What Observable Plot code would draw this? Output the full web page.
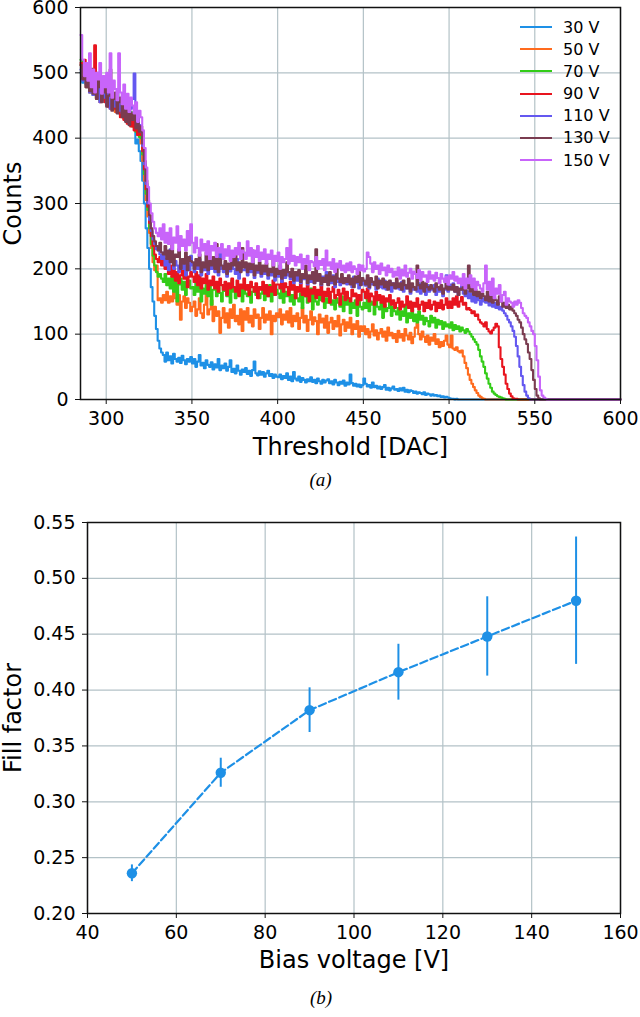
<!DOCTYPE html>
<html><head><meta charset="utf-8">
<script src="https://cdn.jsdelivr.net/npm/d3@7"></script>
<script src="https://cdn.jsdelivr.net/npm/@observablehq/plot@0.6"></script>
<style>
body{margin:0;background:#fff;}
#root{position:relative;width:640px;height:1017px;font-family:"DejaVu Sans",sans-serif;overflow:hidden;}
#pa{position:absolute;left:0;top:0;}
#pb{position:absolute;left:0;top:500px;}
#legend{position:absolute;left:520px;top:16px;}
.row{display:flex;align-items:center;height:22.17px;color:#000;white-space:nowrap;}
.sw{width:32px;height:2px;margin-right:11px;}
</style></head><body>
<div id="root"><div id="pa"></div><div id="pb"></div><div id="legend"></div></div>
<script>
// ---------- Panel (a): threshold scans (1-DAC bins starting at 285) ----------
const binStart = 285;
const binWidth = 1;
const thresholdMax = 600;
const thresholdTicks = [300, 350, 400, 450, 500, 550, 600];
const countTicks = [0, 100, 200, 300, 400, 500, 600];
const seriesLabels = ["30 V", "50 V", "70 V", "90 V", "110 V", "130 V", "150 V"];
const seriesColors = ["#1e90e6", "#ff6b1e", "#33cc18", "#e8141e", "#6458f0", "#7a3c50", "#c864fa"];

const counts30 = [
  500,485,510,478,495,470,502,466,488,475, 470,490,458,480,462,472,450,468,455,460,
  445,462,438,455,440,448,430,445,425,438, 420,428,392,398,380,
  365,335,300,262,232,200,172,150,128,108,90,78,72,
  68,58,72,60,66,55,70,62,58,64,56,67,60,54,62,58,65,
  55,62,50,58,68,52,56,48,60,53, 50,57,46,54,49,62,45,52,48,55,
  44,50,60,42,47,40,52,44,38,46, 42,48,39,44,36,45,58,40,37,43,
  38,42,35,40,44,36,39,33,38,35,
  34,38,31,36,33,40,30,35,28,42, 32,29,35,27,33,30,26,31,28,34,
  27,30,25,32,28,24,30,26,29,31, 25,28,23,30,26,22,27,24,29,21,
  26,23,38,25,21,24,20,23,19,22,
  32,24,20,22,18,26,19,21,17,20, 16,19,22,15,18,14,17,20,15,16,
  13,17,14,18,12,15,11,14,13,10, 12,9,11,10,8,11,7,9,8,6,
  8,6,7,5,6,4,5,3,4,3,
  2,1,1,0,1,0];
const counts50 = [
  512,490,505,478,498,470,492,468,485,460, 478,455,488,462,470,450,472,445,465,458,
  440,462,448,435,455,430,448,425,442,420, 435,418,428,405,415,
  392,365,335,305,280,255,232,210,198,205,152,155,148,
  160,152,165,148,158,150,168,155,145,160,122,150,158,140,155,148,135,
  142,150,128,138,155,132,125,145,160,130, 138,152,120,142,128,135,102,125,140,118,
  132,110,138,125,145,120,128,115,138,105, 135,122,140,118,128,112,138,125,130,108,
  125,140,118,130,122,135,100,128,120,132,
  126,138,115,130,122,135,118,140,112,128, 120,132,108,125,140,118,128,105,122,135,
  115,126,120,100,130,118,124,110,128,102, 118,125,108,120,112,128,98,115,122,105,
  118,110,125,100,115,108,120,96,112,105,
  112,100,108,95,104,115,98,106,92,102, 108,96,104,90,110,98,102,94,100,88,
  105,95,100,90,108,98,92,102,86,96, 110,116,100,92,104,96,88,98,84,95,
  90,100,85,92,80,88,82,90,98,84,
  80,98,78,76,80,74,72,75,66,56, 48,38,30,24,19,14,10,6,4,2, 1,0];
const counts70 = [
  520,495,512,482,505,472,498,470,490,462, 482,458,475,465,485,452,470,448,462,455,
  445,468,440,458,435,452,428,448,422,440, 418,432,410,425,402,
  400,375,345,315,290,262,238,220,205,195,188,192,185,
  180,192,175,185,170,188,165,182,150,176,185,168,180,160,175,182,170,
  172,160,178,165,185,150,170,162,175,158, 180,145,168,175,158,172,163,150,175,166,
  158,170,148,182,165,155,172,160,168,150, 175,162,158,170,148,165,172,160,168,155,
  162,170,152,165,158,175,150,166,160,168,
  162,155,170,148,165,158,172,150,160,145, 168,155,150,162,140,158,165,148,155,170,
  138,160,150,145,158,152,165,140,155,148, 160,145,152,138,155,148,142,158,135,150,
  145,155,132,148,140,152,128,150,142,138,
  148,140,155,135,150,145,130,152,142,138, 148,125,145,135,140,150,128,142,135,130,
  140,122,135,128,145,118,132,125,138,120, 130,118,135,122,128,115,125,120,112,128,
  118,125,110,122,115,120,108,118,112,115,
  110,118,106,114,108,112,104,110,106,102, 108,104,100,96,92,88,84,76,66,58,
  50,40,32,24,18,12,9,7,5,4, 3,2,1,0];
const counts90 = [
  515,500,520,485,505,478,498,490,542,470, 488,462,480,470,455,478,448,468,458,445,
  462,440,455,432,450,428,445,422,440,418, 432,412,425,405,418,
  405,380,352,322,295,270,250,235,222,215,210,218,205,
  213,200,210,192,205,188,200,182,195,178,190,200,185,195,172,188,195,
  188,180,195,175,190,170,185,178,192,168, 182,175,188,170,180,165,185,175,168,180,
  160,178,170,185,172,165,182,158,176,170, 185,168,175,160,180,172,165,178,155,172,
  168,180,162,175,158,172,165,182,160,176,
  176,170,182,165,178,172,160,180,168,175, 155,172,165,178,160,170,158,175,150,168,
  162,172,155,168,160,175,150,165,158,170, 148,165,172,155,160,168,145,162,170,152,
  165,155,150,168,158,162,145,160,152,168,
  165,155,170,150,162,158,145,165,152,160, 148,158,142,155,150,160,145,152,140,148,
  155,138,150,142,145,158,140,150,135,148, 142,155,138,145,150,135,148,140,152,138,
  145,150,135,148,140,152,138,145,155,140,
  150,140,155,145,158,142,150,157,145,148, 138,140,137,132,135,128,130,122,118,116,
  112,118,108,104,101,106,110,116,112,80, 62,50,38,24,16,9,5,2,1,1, 0];
const counts110 = [
  505,488,500,482,498,470,492,466,478,470, 485,455,480,462,470,450,475,445,465,458,
  448,470,442,460,438,455,432,450,428,445, 460,499,430,438,420,
  410,388,360,330,300,275,258,245,238,230,228,222,215,
  225,205,215,198,230,210,200,212,205,195,210,200,215,190,205,198,220,
  205,195,210,200,215,190,205,198,220,192, 208,200,214,195,206,190,230,200,195,208,
  188,202,196,210,200,192,215,185,205,198, 198,205,190,202,195,208,186,200,194,205,
  188,198,192,202,185,196,190,200,182,195,
  188,198,180,192,186,200,190,184,196,178, 190,182,195,178,188,184,192,176,186,180,
  192,178,186,182,190,175,188,180,195,176, 185,178,190,172,186,180,175,188,178,182,
  176,185,180,172,188,178,182,170,185,176,
  180,174,186,170,182,176,180,168,185,172, 178,170,182,168,175,180,165,178,172,170,
  175,168,180,165,172,170,178,162,175,168, 170,165,178,162,172,168,160,175,165,170,
  168,175,160,170,165,172,158,168,190,165,
  176,170,178,165,172,160,168,175,162,158, 166,155,162,150,158,148,160,152,145,155,
  150,148,155,144,150,142,148,140,146,138, 142,136,132,128,122,118,112,105,96,82,
  66,50,36,22,12,6,2,0];
const counts130 = [
  512,490,505,478,498,472,506,468,488,460, 500,478,455,470,490,448,465,505,442,460,
  470,438,455,462,432,450,425,448,420,438, 428,440,415,432,410,
  418,392,365,335,305,282,262,250,242,235,228,240,225,
  222,235,215,228,210,238,205,222,218,230,200,215,208,225,198,218,212,
  210,200,215,205,222,195,210,202,225,198, 212,205,218,200,238,195,215,205,200,212,
  192,208,200,215,205,222,198,210,195,232, 202,210,195,208,200,228,190,205,198,210,
  192,205,196,208,190,200,195,215,188,200,
  192,205,185,198,190,210,195,188,200,182, 195,190,198,180,192,186,205,178,190,184,
  195,178,230,182,192,176,186,180,190,175, 195,182,188,176,200,185,180,192,178,186,
  180,190,176,185,172,188,180,195,175,186,
  182,176,190,172,186,180,175,188,170,182, 176,185,172,180,168,182,175,178,170,185,
  172,178,168,182,175,170,185,165,178,172, 168,205,175,170,180,165,178,172,168,175,
  170,165,178,172,168,175,162,170,180,168,
  172,168,176,165,172,160,170,168,175,162, 170,205,165,172,160,168,158,165,155,162,
  158,152,165,150,160,148,155,152,145,158, 150,142,148,140,145,138,142,136,132,128,
  122,118,110,100,92,85,72,62,45,30, 16,6,2,0];
const counts150 = [
  558,520,495,515,488,530,478,505,470,500, 490,515,468,495,478,500,470,530,462,488,
  475,458,530,470,452,482,445,468,440,462, 450,438,455,425,442,
  432,412,385,355,325,300,285,272,262,255,250,262,245,
  268,240,255,238,262,230,248,240,265,228,250,235,245,228,258,236,268,
  240,225,248,232,220,245,228,238,222,242, 215,235,228,240,218,232,225,238,215,230,
  220,235,212,228,218,232,222,240,215,228, 225,215,242,220,232,210,228,218,235,212,
  225,215,230,208,222,215,228,205,220,212,
  225,200,218,210,215,232,208,245,212,220, 205,218,210,222,200,215,208,220,198,212,
  210,204,218,200,212,206,215,198,228,205, 210,200,215,195,208,202,212,198,205,195,
  208,198,210,195,204,200,192,206,198,205,
  196,200,225,218,208,195,210,200,205,192, 208,198,202,190,205,195,200,188,196,190,
  202,185,198,190,205,188,194,200,185,196, 192,186,198,182,195,188,190,180,196,185,
  190,182,194,186,178,192,185,180,188,176,
  190,185,195,182,188,178,185,175,192,170, 185,178,190,172,185,168,180,175,170,165,
  178,205,168,180,160,185,155,170,162,175, 150,160,165,145,155,150,148,142,150,145,
  152,148,140,132,128,125,118,112,105,100, 82,60,35,14,6,3,1,0];

const countsBySeries = [counts30, counts50, counts70, counts90, counts110, counts130, counts150];

// ---------- Panel (b): fill factor ----------
const biasVoltages = [50, 70, 90, 110, 130, 150];
const fillFactor = [0.236, 0.326, 0.382, 0.416, 0.448, 0.480];
const fillFactorErr = [0.0075, 0.013, 0.020, 0.025, 0.0355, 0.057];
const biasTicks = [40, 60, 80, 100, 120, 140, 160];
const fillTicks = [0.20, 0.25, 0.30, 0.35, 0.40, 0.45, 0.50, 0.55];
const pointColor = "#1e90e6";

// ---------- build tables ----------
const histRows = [];
seriesLabels.forEach((s, k) => {
  const arr = countsBySeries[k];
  arr.forEach((c, i) => histRows.push({series: s, threshold: binStart + binWidth * i, count: c}));
  histRows.push({series: s, threshold: thresholdMax, count: arr[arr.length - 1]});
});
const ffRows = biasVoltages.map((v, i) => ({v, ff: fillFactor[i], err: fillFactorErr[i]}));

const gridColor = "#b3c2c7";
const FONT = "'DejaVu Sans', sans-serif";
const baseStyle = {fontFamily: FONT, fontSize: "19px", color: "#000", background: "transparent", overflow: "visible"};
const axisOpts = {tickSize: 5, tickPadding: 7, label: null, stroke: "#111", fontSize: 19, fontFamily: FONT};
const titleOpts = {text: d => d, fontSize: 24, fontFamily: FONT, textAnchor: "middle", lineAnchor: "middle"};
const capOpts = {text: d => d, fontSize: 19, fontStyle: "italic", fontFamily: "'Liberation Serif', serif", textAnchor: "middle", lineAnchor: "middle"};

const plotA = Plot.plot({
  width: 640, height: 500,
  marginLeft: 80, marginRight: 20, marginTop: 7, marginBottom: 101,
  style: baseStyle,
  x: {domain: [binStart, thresholdMax]},
  y: {domain: [0, 600]},
  color: {domain: seriesLabels, range: seriesColors},
  marks: [
    Plot.gridX(thresholdTicks, {stroke: gridColor, strokeOpacity: 1, strokeWidth: 1.2}),
    Plot.gridY(countTicks, {stroke: gridColor, strokeOpacity: 1, strokeWidth: 1.2}),
    Plot.line(histRows, {x: "threshold", y: "count", z: "series", stroke: "series", curve: "step-after", strokeWidth: 2.1}),
    Plot.frame({stroke: "#111", strokeWidth: 1.5}),
    Plot.axisX(thresholdTicks, axisOpts),
    Plot.axisY(countTicks, axisOpts),
    Plot.text(["Threshold [DAC]"], {...titleOpts, frameAnchor: "bottom", dy: 48}),
    Plot.text(["Counts"], {...titleOpts, frameAnchor: "left", dx: -67, rotate: -90}),
    Plot.text(["(a)"], {...capOpts, frameAnchor: "bottom", dx: -30, dy: 80})
  ]
});
document.getElementById("pa").appendChild(plotA);

const plotB = Plot.plot({
  width: 640, height: 517,
  marginLeft: 87, marginRight: 20, marginTop: 22, marginBottom: 104,
  style: baseStyle,
  x: {domain: [40, 160]},
  y: {domain: [0.20, 0.55]},
  marks: [
    Plot.gridX(biasTicks, {stroke: gridColor, strokeOpacity: 1, strokeWidth: 1.2}),
    Plot.gridY(fillTicks, {stroke: gridColor, strokeOpacity: 1, strokeWidth: 1.2}),
    Plot.ruleX(ffRows, {x: "v", y1: d => d.ff - d.err, y2: d => d.ff + d.err, stroke: pointColor, strokeWidth: 2}),
    Plot.line(ffRows, {x: "v", y: "ff", stroke: pointColor, strokeWidth: 2.2, strokeDasharray: "7.5,3.5"}),
    Plot.dot(ffRows, {x: "v", y: "ff", r: 5.2, fill: pointColor, stroke: "none"}),
    Plot.frame({stroke: "#111", strokeWidth: 1.5}),
    Plot.axisX(biasTicks, axisOpts),
    Plot.axisY(fillTicks, {...axisOpts, tickFormat: d3.format(".2f")}),
    Plot.text(["Bias voltage [V]"], {...titleOpts, frameAnchor: "bottom", dy: 47}),
    Plot.text(["Fill factor"], {...titleOpts, frameAnchor: "left", dx: -74, rotate: -90}),
    Plot.text(["(b)"], {...capOpts, frameAnchor: "bottom", dx: -33, dy: 84})
  ]
});
document.getElementById("pb").appendChild(plotB);

// legend
const legend = document.getElementById("legend");
seriesLabels.forEach((s, k) => {
  const row = document.createElement("div");
  row.className = "row";
  row.style.fontSize = "16px";
  row.style.fontFamily = FONT;
  const sw = document.createElement("span");
  sw.className = "sw";
  sw.style.background = seriesColors[k];
  const t = document.createElement("span");
  t.textContent = s;
  row.appendChild(sw); row.appendChild(t);
  legend.appendChild(row);
});
</script>
</body></html>
